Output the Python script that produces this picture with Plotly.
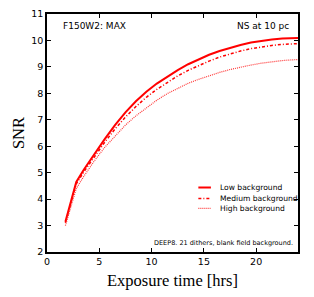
import plotly.graph_objects as go

# Data
x_hours = [1.76, 2.8, 3.5, 4.5, 5.5, 6.5, 7.5, 8.5, 9.5, 10.5, 11.5, 12.5, 13.5, 14.5, 15.5, 16.5, 17.5, 18.5, 19.5, 20.5, 21.5, 22.5, 24.0]
y_low = [3.14, 4.65, 5.1, 5.7, 6.26, 6.8, 7.28, 7.7, 8.06, 8.37, 8.64, 8.88, 9.1, 9.29, 9.46, 9.6, 9.72, 9.83, 9.92, 9.99, 10.04, 10.07, 10.09]
y_med = [3.1, 4.58, 5.02, 5.6, 6.14, 6.65, 7.1, 7.5, 7.85, 8.15, 8.42, 8.66, 8.87, 9.06, 9.22, 9.37, 9.5, 9.6, 9.69, 9.76, 9.81, 9.85, 9.88]
y_high = [3.0, 4.4, 4.85, 5.43, 5.95, 6.38, 6.8, 7.15, 7.46, 7.74, 7.99, 8.2, 8.38, 8.53, 8.67, 8.79, 8.9, 8.99, 9.07, 9.14, 9.2, 9.24, 9.28]

x_ticks = [0, 5, 10, 15, 20]
y_ticks = [2, 3, 4, 5, 6, 7, 8, 9, 10, 11]

series_names = ["Low background", "Medium background", "High background"]
series_y = [y_low, y_med, y_high]
series_line = [
    dict(color="#ff0000", width=2),
    dict(color="#ff0000", width=1.5, dash="3px,2px,1px,2px"),
    dict(color="#ff3a3a", width=1.2, dash="1px,1px"),
]

fig = go.Figure()
for name, ys, ln in zip(series_names, series_y, series_line):
    fig.add_trace(go.Scatter(x=x_hours, y=ys, mode="lines", name=name, line=ln, showlegend=False))

# Compact hand-made legend (Plotly's legend rows cannot be this tight)
leg_y = [0.271, 0.225, 0.183]
shapes = []
annotations = []
for name, ln, yy in zip(series_names, series_line, leg_y):
    shapes.append(dict(type="line", xref="paper", yref="paper", x0=0.603, x1=0.653,
                       y0=yy, y1=yy, line=ln))
    annotations.append(dict(text=name, xref="paper", yref="paper", x=0.680, y=yy,
                            xanchor="left", yanchor="middle", showarrow=False,
                            font=dict(family="DejaVu Sans", size=7.6, color="black")))

annotations += [
    dict(text="F150W2: MAX", x=0.055, y=0.948, xref="paper", yref="paper",
         xanchor="left", yanchor="middle", showarrow=False,
         font=dict(family="DejaVu Sans", size=9, color="black")),
    dict(text="NS at 10 pc", x=0.972, y=0.948, xref="paper", yref="paper",
         xanchor="right", yanchor="middle", showarrow=False,
         font=dict(family="DejaVu Sans", size=9, color="black")),
    dict(text="DEEP8. 21 dithers, blank field background.", x=0.989, y=0.037,
         xref="paper", yref="paper", xanchor="right", yanchor="middle", showarrow=False,
         font=dict(family="DejaVu Sans", size=6.5, color="black")),
]

axis_common = dict(showline=True, linecolor="black", linewidth=1.6, mirror="ticks",
                   ticks="inside", ticklen=4, tickwidth=1, tickcolor="black",
                   showgrid=False, zeroline=False, automargin=False,
                   tickfont=dict(family="DejaVu Sans", size=9.5, color="black"))

# The page body adds an 8px offset, so the figure is 8px smaller and margins shifted
fig.update_layout(
    width=306, height=289,
    margin=dict(l=39, r=16, t=6, b=45),
    paper_bgcolor="white", plot_bgcolor="white",
    xaxis=dict(range=[0, 24], tickvals=x_ticks, **axis_common,
               title=dict(text="Exposure time [hrs]", standoff=8,
                          font=dict(family="Liberation Serif", size=16.5, color="black"))),
    yaxis=dict(range=[2, 11], tickvals=y_ticks, **axis_common,
               title=dict(text="SNR", standoff=2,
                          font=dict(family="Liberation Serif", size=16.5, color="black"))),
    showlegend=False,
    shapes=shapes,
    annotations=annotations,
)

fig.write_html("out.html")
